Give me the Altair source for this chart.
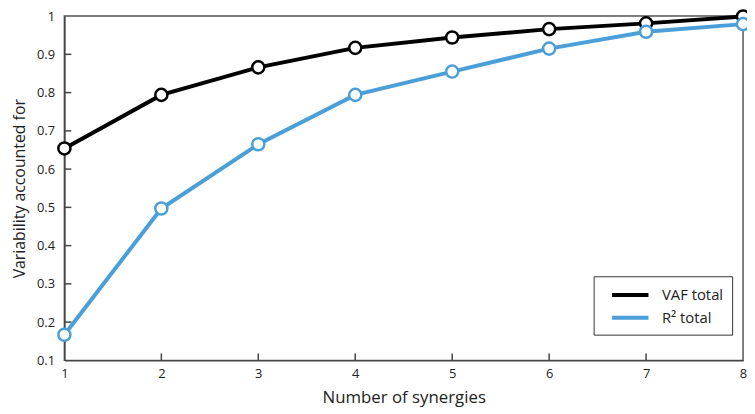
import altair as alt
import pandas as pd

synergies = [1, 2, 3, 4, 5, 6, 7, 8]
vaf_total = [0.654, 0.794, 0.866, 0.917, 0.944, 0.966, 0.981, 0.999]
r2_total = [0.167, 0.497, 0.665, 0.794, 0.855, 0.915, 0.959, 0.979]
series_names = ["VAF total", "R² total"]
series_colors = ["#000000", "#4a9fd8"]
y_ticks = [0.1, 0.2, 0.3, 0.4, 0.5, 0.6, 0.7, 0.8, 0.9, 1.0]

rows = []
for name, vals in zip(series_names, [vaf_total, r2_total]):
    for s, v in zip(synergies, vals):
        rows.append({"n": s, "v": v, "series": name})
df = pd.DataFrame(rows)

W, H = 686, 348
FONT = "Open Sans"
X_TITLE = "Number of synergies"
Y_TITLE = "Variability accounted for"

xs = alt.Scale(domain=[1, 8], nice=False)
ys = alt.Scale(domain=[0.1, 1.0], nice=False)
cs = alt.Scale(domain=series_names, range=series_colors)

x_axis = alt.Axis(values=synergies, format="d", tickSize=0, labelPadding=7,
                  grid=False, domainColor="#444", domainWidth=1.5,
                  labelOverlap=False, labelBound=False, labelFlush=False,
                  labelFont=FONT, labelFontSize=13, labelColor="#222",
                  titleFont=FONT, titleFontSize=17, titleFontWeight="normal",
                  titleColor="#222", titlePadding=10)
y_axis = alt.Axis(values=y_ticks, format="~g", tickSize=0, labelPadding=10,
                  grid=False, domainColor="#444", domainWidth=1.5,
                  labelOverlap=False, labelBound=False, labelFlush=False,
                  labelFont=FONT, labelFontSize=13, labelColor="#222",
                  titleFont=FONT, titleFontSize=16, titleFontWeight="normal",
                  titleColor="#222", titlePadding=9)

base = alt.Chart(df)

lines = base.mark_line(strokeWidth=4, clip=False).encode(
    x=alt.X("n:Q", scale=xs, title=X_TITLE, axis=x_axis),
    y=alt.Y("v:Q", scale=ys, title=Y_TITLE, axis=y_axis),
    color=alt.Color("series:N", scale=cs, sort=series_names,
                    legend=alt.Legend(title=None, orient="none", legendX=535, legendY=263,
                                      symbolType="M-2.3,0H2.3", symbolStrokeWidth=4,
                                      symbolSize=256, symbolOffset=18,
                                      labelFont=FONT, labelFontSize=15,
                                      labelColor="#222", strokeColor="#333",
                                      padding=9, rowPadding=5, labelOffset=22,
                                      fillColor="white")),
)

points = base.mark_point(filled=True, fill="white", size=150, strokeWidth=2.5,
                         opacity=1, clip=False).encode(
    x=alt.X("n:Q", scale=xs, title=X_TITLE, axis=x_axis),
    y=alt.Y("v:Q", scale=ys, title=Y_TITLE, axis=y_axis),
    stroke=alt.Stroke("series:N", scale=cs, legend=None),
)

ytick_df = pd.DataFrame({"t": y_ticks[1:-1]})
yticks = alt.Chart(ytick_df).mark_rule(color="#444", strokeWidth=1.5).encode(
    y=alt.Y("t:Q", scale=ys, title=Y_TITLE, axis=y_axis),
    x=alt.value(0), x2=alt.value(7),
)
xtick_df = pd.DataFrame({"t": synergies[1:-1]})
xticks = alt.Chart(xtick_df).mark_rule(color="#444", strokeWidth=1.5).encode(
    x=alt.X("t:Q", scale=xs, title=X_TITLE, axis=x_axis),
    y=alt.value(H), y2=alt.value(H - 7),
)

chart = alt.layer(lines, points, yticks, xticks).properties(
    width=W, height=H,
    autosize=alt.AutoSizeParams(type="none"),
    padding={"left": 57, "top": 6, "right": 4, "bottom": 50},
).configure_view(stroke="#555", strokeWidth=1.5)

chart.save("out.html", embed_options={"renderer": "svg", "actions": False})
